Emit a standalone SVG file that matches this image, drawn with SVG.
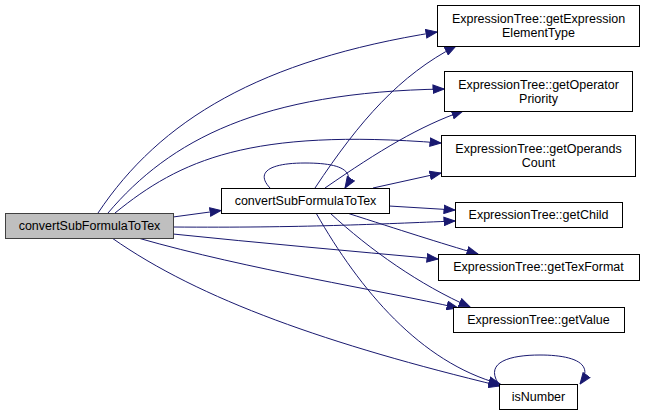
<svg xmlns="http://www.w3.org/2000/svg" width="645" height="415" viewBox="0 0 645 415">
<style>
.n rect{fill:#fff;stroke:#000;stroke-width:1}
#main rect{fill:#bfbfbf;stroke:#404040}
text{font-family:"Liberation Sans",Arial,sans-serif;font-size:12.5px;fill:#000;text-anchor:middle}
.e path{fill:none;stroke:#191970;stroke-width:1;marker-end:url(#ah)}
</style>
<defs>
<marker id="ah" markerUnits="userSpaceOnUse" markerWidth="12" markerHeight="10" viewBox="0 0 12 10" refX="11.5" refY="5" orient="auto">
<path d="M0.5,0.8 L11.5,5 L0.5,9.2 z" fill="#191970" stroke="#191970" stroke-width="1"/>
</marker>
</defs>
<rect width="645" height="415" fill="#fff"/>
<g class="e" id="edges">
<path d="M98,213 C160,120 260,60 437,32"/>
<path d="M108,213 C170,140 260,92 444,89"/>
<path d="M115,213 C180,160 250,128 441,143"/>
<path d="M173,217 L221,210.5"/>
<path d="M173,227 C300,228 380,224 455,221"/>
<path d="M173,234 C260,243 350,251 438,259"/>
<path d="M138,238 C250,270 380,290 458,308"/>
<path d="M112,238 C200,300 330,345 500,386"/>
<path d="M270,188 C255,172 270,163 305,163 C337,163 357,169 345,188"/>
<path d="M315,188 C360,120 400,75 456,46"/>
<path d="M325,188 C380,150 420,126 463,111"/>
<path d="M373,188 L441,173"/>
<path d="M389,206 L455,210"/>
<path d="M347,213 C400,230 440,243 478,254"/>
<path d="M330,213 C370,250 420,285 470,307"/>
<path d="M316,213 C360,290 420,362 500,384"/>
<path d="M498,383 C485,362 510,355 540,355 C570,355 596,362 580,384"/>
</g>
<g class="n" id="main"><rect x="5.5" y="213.5" width="168" height="25"/><text x="89.5" y="230">convertSubFormulaToTex</text></g>
<g class="n" id="convert"><rect x="221.5" y="188.5" width="168" height="25"/><text x="305.5" y="205">convertSubFormulaToTex</text></g>
<g class="n" id="getExpressionElementType"><rect x="437.5" y="5.5" width="202" height="41"/><text x="538.5" y="22.5">ExpressionTree::getExpression</text><text x="538.5" y="36.5">ElementType</text></g>
<g class="n" id="getOperatorPriority"><rect x="444.5" y="71.5" width="188" height="40"/><text x="538.5" y="88.5">ExpressionTree::getOperator</text><text x="538.5" y="102.5">Priority</text></g>
<g class="n" id="getOperandsCount"><rect x="441.5" y="135.5" width="194" height="41"/><text x="538.5" y="153">ExpressionTree::getOperands</text><text x="538.5" y="167">Count</text></g>
<g class="n" id="getChild"><rect x="455.5" y="202.5" width="167" height="25"/><text x="538.5" y="219">ExpressionTree::getChild</text></g>
<g class="n" id="getTexFormat"><rect x="438.5" y="254.5" width="201" height="26"/><text x="538.5" y="271">ExpressionTree::getTexFormat</text></g>
<g class="n" id="getValue"><rect x="453.5" y="307.5" width="171" height="25"/><text x="538.5" y="324">ExpressionTree::getValue</text></g>
<g class="n" id="isNumber"><rect x="499.5" y="384.5" width="78" height="25"/><text x="538.5" y="401">isNumber</text></g>
</svg>
